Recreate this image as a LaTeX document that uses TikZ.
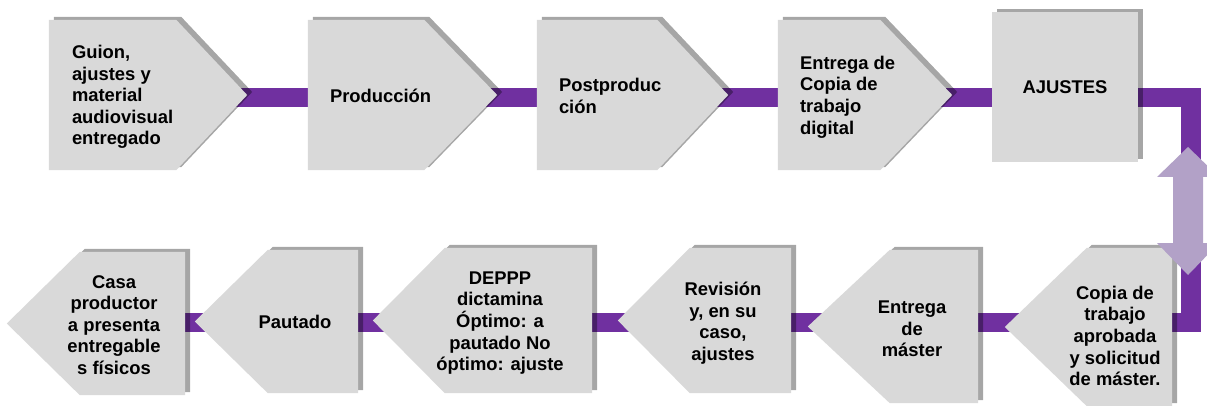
\documentclass[tikz,border=0pt]{standalone}
\usepackage{fontspec}
\setmainfont{Liberation Sans}
\usetikzlibrary{calc,backgrounds}
\definecolor{boxgray}{HTML}{D9D9D9}
\definecolor{linkpurple}{HTML}{7030A0}
\definecolor{swappurple}{HTML}{B2A1C7}
\newcommand\pointR[2]{(#1.north west) -- (#1.north east) -- ($(#1.east)+(#2,0)$) -- (#1.south east) -- (#1.south west) -- cycle}
\newcommand\pointL[2]{(#1.north east) -- (#1.north west) -- ($(#1.west)-(#2,0)$) -- (#1.south west) -- (#1.south east) -- cycle}
\begin{document}
\begin{tikzpicture}[x=1pt,y=-1pt,
stepbox/.style={rectangle, inner sep=0pt},
steptext/.style={font=\bfseries\fontsize{18.4}{21.6}\selectfont, inner sep=0pt, align=#1},
steptext/.default=center,
link/.style={draw=linkpurple, line width=19.5pt},
stepshadow/.style={fill=black, fill opacity=.35, transform canvas={xshift=5pt,yshift=3pt}},
stepfill/.style={fill=boxgray}]
\useasboundingbox (0,0) rectangle (1207,406);
\coordinate (toprow) at (0,97.5);
\coordinate (lowrow) at (0,322.5);
\coordinate (turn) at (1191,97.5);

\node[stepbox, minimum width=127pt, minimum height=150pt] (guion) at (112.5,95) {};
\node[stepbox, minimum width=116pt, minimum height=150pt] (produccion) at (366,95) {};
\node[stepbox, minimum width=120pt, minimum height=150pt] (postproduccion) at (597,95) {};
\node[stepbox, minimum width=102pt, minimum height=150pt] (entcopia) at (829,95) {};
\node[stepbox, minimum width=146pt, minimum height=150pt] (ajustes) at (1065,87) {};
\node[stepbox, minimum width=85pt, minimum height=158pt] (copia) at (1129.5,327) {};
\node[stepbox, minimum width=88pt, minimum height=153pt] (entmaster) at (934,326.5) {};
\node[stepbox, minimum width=101pt, minimum height=145pt] (revision) at (740.5,320.5) {};
\node[stepbox, minimum width=147pt, minimum height=145pt] (deppp) at (518.5,320.5) {};
\node[stepbox, minimum width=90pt, minimum height=143pt] (pautado) at (313,321.5) {};
\node[stepbox, minimum width=105pt, minimum height=143pt] (casa) at (132.5,323.5) {};

\node[steptext=left, anchor=west] (guion-t) at ($(guion.west)+(23,2)$) {Guion,\\ajustes y\\material\\audiovisual\\entregado};
\node[steptext=left, anchor=west] (produccion-t) at ($(produccion.west)+(22,1)$) {Producción};
\node[steptext=left, anchor=west] (postproduccion-t) at ($(postproduccion.west)+(22,1)$) {Postproduc\\ción};
\node[steptext=left, anchor=west] (entcopia-t) at ($(entcopia.west)+(22,2)$) {Entrega de\\Copia de\\trabajo\\digital};
\node[steptext] (ajustes-t) at (ajustes.center) {AJUSTES};
\node[steptext] (copia-t) at ($(copia.center)+(-14.5,9)$) {Copia de\\trabajo\\aprobada\\y solicitud\\de máster.};
\node[steptext] (entmaster-t) at ($(entmaster.center)+(-22,2.5)$) {Entrega\\de\\máster};
\node[steptext] (revision-t) at ($(revision.center)+(-17.5,2.5)$) {Revisión\\y, en su\\caso,\\ajustes};
\node[steptext] (deppp-t) at ($(deppp.center)+(-18.5,2.5)$) {DEPPP\\dictamina\\Óptimo: a\\pautado No\\óptimo: ajuste};
\node[steptext] (pautado-t) at ($(pautado.center)+(-18,0.5)$) {Pautado};
\node[steptext] (casa-t) at ($(casa.center)+(-18.5,1.5)$) {Casa\\productor\\a presenta\\entregable\\s físicos};

\fill[swappurple] (1188,147) -- (1219,177) -- (1203,177) -- (1203,243) -- (1219,243) -- (1188,275)
  -- (1157,243) -- (1173,243) -- (1173,177) -- (1157,177) -- cycle;

\begin{scope}[on background layer]
\draw[link] (guion.east |- toprow) -- (produccion.west |- toprow);
\draw[link] (produccion.east |- toprow) -- (postproduccion.west |- toprow);
\draw[link] (postproduccion.east |- toprow) -- (entcopia.west |- toprow);
\draw[link] (entcopia.east |- toprow) -- (ajustes.west |- toprow);
\draw[link] (ajustes.east |- toprow) -- (turn) |- (copia.east |- lowrow);
\draw[link] (copia.west |- lowrow) -- (entmaster.east |- lowrow);
\draw[link] (entmaster.west |- lowrow) -- (revision.east |- lowrow);
\draw[link] (revision.west |- lowrow) -- (deppp.east |- lowrow);
\draw[link] (deppp.west |- lowrow) -- (pautado.east |- lowrow);
\draw[link] (pautado.west |- lowrow) -- (casa.east |- lowrow);
\fill[stepshadow] \pointR{guion}{71};
\fill[stepshadow] \pointR{produccion}{73};
\fill[stepshadow] \pointR{postproduccion}{71};
\fill[stepshadow] \pointR{entcopia}{72};
\fill[stepshadow] (ajustes.north west) rectangle (ajustes.south east);
\fill[stepshadow] \pointL{copia}{82};
\fill[stepshadow] \pointL{entmaster}{82};
\fill[stepshadow] \pointL{revision}{72};
\fill[stepshadow] \pointL{deppp}{72};
\fill[stepshadow] \pointL{pautado}{73};
\fill[stepshadow] \pointL{casa}{73};
\fill[stepfill] \pointR{guion}{71};
\fill[stepfill] \pointR{produccion}{73};
\fill[stepfill] \pointR{postproduccion}{71};
\fill[stepfill] \pointR{entcopia}{72};
\fill[stepfill] (ajustes.north west) rectangle (ajustes.south east);
\fill[stepfill] \pointL{copia}{82};
\fill[stepfill] \pointL{entmaster}{82};
\fill[stepfill] \pointL{revision}{72};
\fill[stepfill] \pointL{deppp}{72};
\fill[stepfill] \pointL{pautado}{73};
\fill[stepfill] \pointL{casa}{73};
\end{scope}
\end{tikzpicture}
\end{document}
